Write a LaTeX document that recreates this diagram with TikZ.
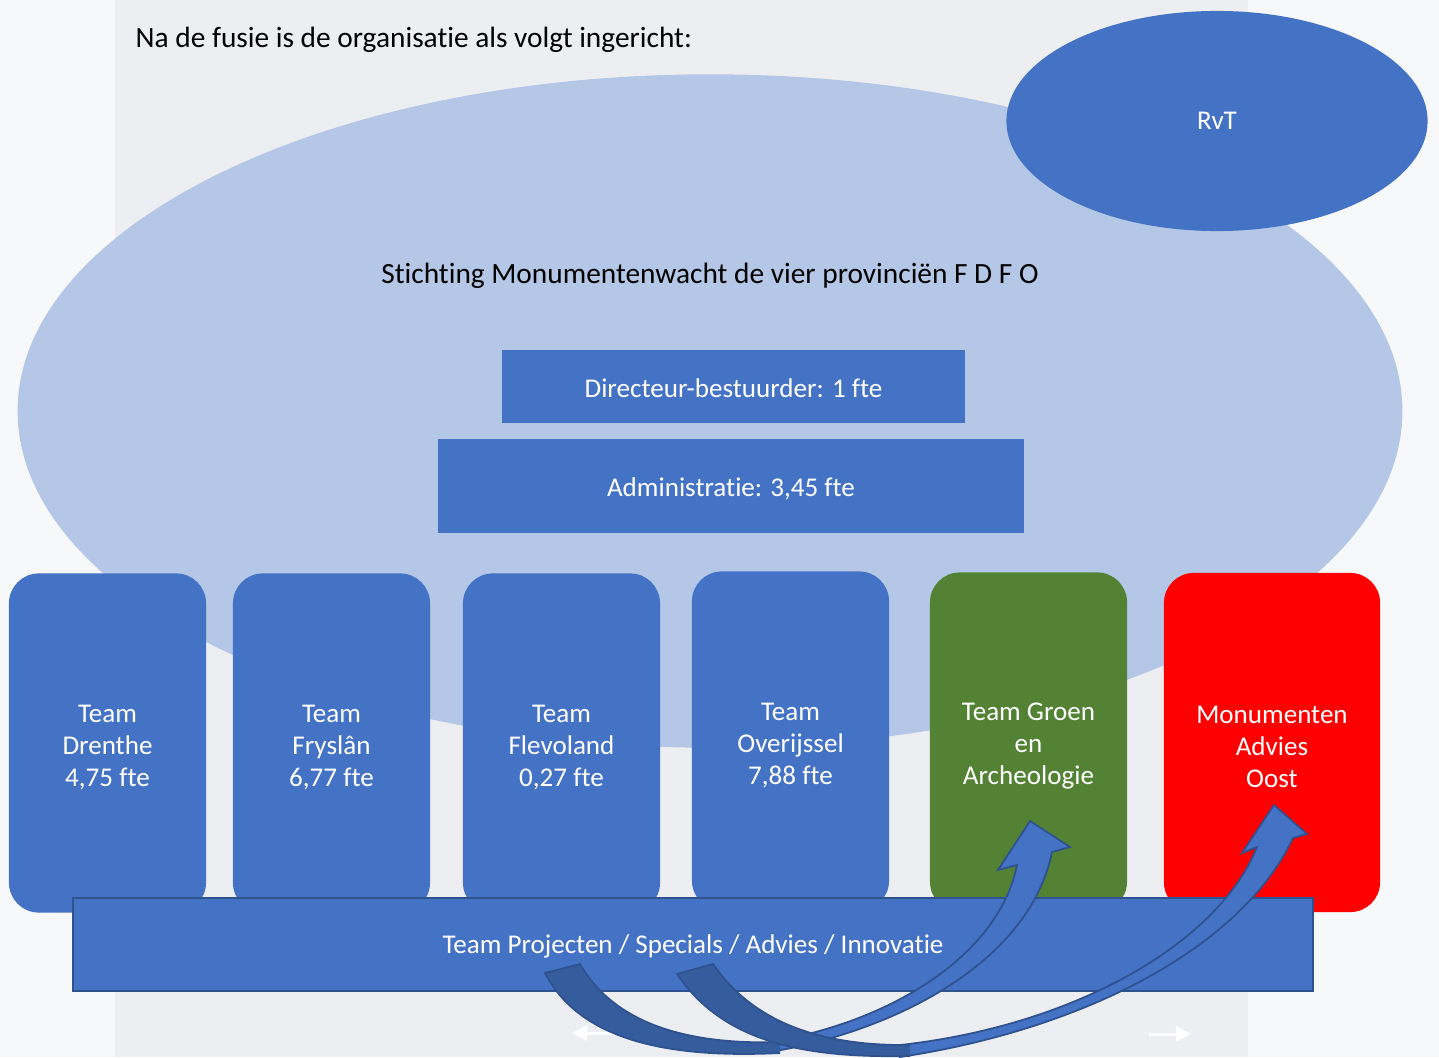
\documentclass[tikz,border=0pt]{standalone}
\usepackage{fontspec}
\setmainfont{Carlito}[Ligatures=CommonOff]
\usetikzlibrary{shapes.geometric,arrows.meta}
\definecolor{pagebg}{HTML}{F7F8FA}
\definecolor{slidebg}{HTML}{EDEEF2}
\definecolor{vlakblauw}{HTML}{B4C7E7}
\definecolor{accent}{HTML}{4472C4}
\definecolor{accentdark}{HTML}{2F528F}
\definecolor{staartblauw}{HTML}{355C9C}
\definecolor{groen}{HTML}{548235}

\begin{document}
\begin{tikzpicture}[x=0.01cm, y=-0.01cm,
    every node/.style={font=\fontsize{7.7}{9.1}\selectfont},
    koptekst/.style={font=\fontsize{8.35}{10}\selectfont, inner sep=0pt},
    teambox/.style={fill=accent, rounded corners=8.5pt, minimum width=1.97cm, minimum height=3.39cm, inner sep=0pt},
    teamtekst/.style={text=white, align=center, inner sep=0pt, yshift=-1.15pt},
    blokbox/.style={fill=accent, text=white, inner sep=0pt, text height=6.6pt, text depth=0.6pt},
    bandpijl/.style={fill=accent, draw=accentdark, line width=0.5pt},
    bandrand/.style={draw=accentdark, line width=0.5pt},
    wittepijl/.style={white, line width=0.85pt, -{Triangle[length=4.3pt,width=4.3pt]}}]
    \useasboundingbox (0,0) rectangle (1439,1057);
    \fill[pagebg] (0,0) rectangle (1439,1057);
    \fill[slidebg] (115,0) rectangle (1248,1057);

    \node[koptekst, anchor=base west] (titel) at (135,47) {Na de fusie is de organisatie als volgt ingericht:};
    \node[ellipse, fill=vlakblauw, minimum width=13.84cm, minimum height=6.73cm, inner sep=0pt] (stichtingvlak) at (710,411) {};
    \node[ellipse, fill=accent, text=white, minimum width=4.21cm, minimum height=2.2cm, inner sep=0pt] (rvt) at (1217,121) {RvT};
    \node[koptekst, anchor=base] (stichting) at (710,283) {Stichting Monumentenwacht de vier provinciën F D F O};

    \node[blokbox, minimum width=4.63cm, minimum height=0.73cm] (directeur) at (733.5,386.5) {Directeur-bestuurder: 1 fte};
    \node[blokbox, minimum width=5.86cm, minimum height=0.94cm] (administratie) at (731,486) {Administratie: 3,45 fte};

    \node[teambox, label={[teamtekst]center:{Team\\Drenthe\\4,75 fte}}] (drenthe) at (107.5,743) {};
    \node[teambox, label={[teamtekst]center:{Team\\Fryslân\\6,77 fte}}] (fryslan) at (331.5,743) {};
    \node[teambox, label={[teamtekst]center:{Team\\Flevoland\\0,27 fte}}] (flevoland) at (561.5,743) {};
    \node[teambox, label={[teamtekst]center:{Team\\Overijssel\\7,88 fte}}] (overijssel) at (790.5,741) {};
    \node[teambox, fill=groen, label={[teamtekst]center:{Team Groen\\en\\Archeologie}}] (groenarch) at (1028.5,742) {};
    \node[teambox, fill=red, minimum width=2.16cm, label={[teamtekst]center:{Monumenten\\Advies\\Oost}}] (mao) at (1272,742.5) {};

    \node[blokbox, draw=accentdark, line width=0.6pt, minimum width=12.4cm, minimum height=0.93cm, text height=5.9pt] (projecten) at (693,944.5) {Team Projecten / Specials / Advies / Innovatie};

    \coordinate (wlinks1) at (615,1033);
    \coordinate (wlinks2) at (572,1033);
    \coordinate (wrechts1) at (1149,1034);
    \coordinate (wrechts2) at (1191,1034);
    \draw[wittepijl] (wlinks1) -- (wlinks2);
    \draw[wittepijl] (wrechts1) -- (wrechts2);

    \draw[bandpijl] (770,1052) .. controls (900,1030) and (1030,960) .. (1052,852) -- (1070,847) -- (1030,821) -- (998,870) -- (1017,865) .. controls (1000,950) and (900,1020) .. (770,1042) -- cycle;
    \fill[staartblauw] (545,973) .. controls (582,1045) and (680,1058) .. (780,1053) -- (780,1042) .. controls (690,1045) and (615,1025) .. (580,964) -- cycle;
    \draw[bandrand] (780,1053) .. controls (680,1058) and (582,1045) .. (545,973) -- (580,964) .. controls (615,1025) and (690,1045) .. (780,1042);

    \draw[bandpijl] (900,1057) .. controls (1080,1030) and (1240,950) .. (1293,838) -- (1307,834) -- (1274,805) -- (1242,853) -- (1257,847) .. controls (1220,940) and (1080,1025) .. (900,1045) -- cycle;
    \fill[staartblauw] (677,974) .. controls (725,1045) and (810,1058) .. (910,1056) -- (910,1045) .. controls (825,1046) and (755,1025) .. (713,964) -- cycle;
    \draw[bandrand] (910,1056) .. controls (810,1058) and (725,1045) .. (677,974) -- (713,964) .. controls (755,1025) and (825,1046) .. (910,1045);
\end{tikzpicture}
\end{document}
